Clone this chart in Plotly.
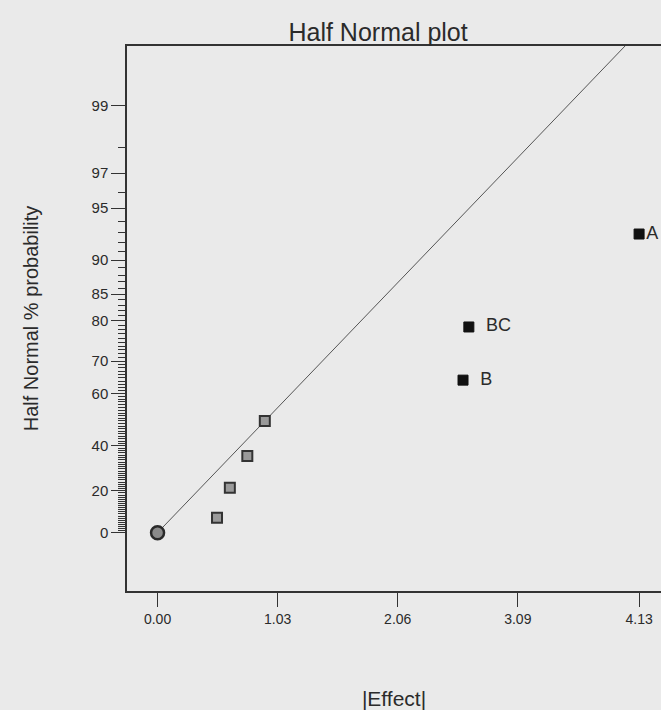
import statistics
import plotly.graph_objects as go

# ---- data ----
error_effect = [0.51, 0.62, 0.77, 0.92]
error_pct = [7.14, 21.43, 35.71, 50.00]

term_names = ["B", "BC", "A"]
term_effect = [2.62, 2.67, 4.13]
term_pct = [64.29, 78.57, 92.86]

origin_effect = [0.0]
origin_pct = [0.0]

line_effect = [0.0, 4.01]
line_pct = [0.0, 99.67]

x_tick_vals = [0.00, 1.03, 2.06, 3.09, 4.13]
y_major_pct = [0, 20, 40, 60, 70, 80, 85, 90, 95, 97, 99]
y_minor_pct = [p for p in range(1, 99) if p not in y_major_pct]

# ---- half-normal probability scale ----
_nd = statistics.NormalDist()


def hn(p):
    return _nd.inv_cdf(0.5 + p / 200.0)


def hn_list(ps):
    return [hn(p) for p in ps]


BG = "#eaeaea"
INK = "#2b2b2b"
FONT = "Liberation Sans, Arial, sans-serif"

fig = go.Figure()

fig.add_trace(go.Scatter(
    x=line_effect, y=hn_list(line_pct), mode="lines",
    line=dict(color="#555555", width=1), hoverinfo="skip", showlegend=False))

fig.add_trace(go.Scatter(
    x=origin_effect, y=hn_list(origin_pct), mode="markers",
    marker=dict(symbol="circle", size=13, color="#8a8a8a",
                line=dict(color="#2a2a2a", width=2.5)),
    showlegend=False))

fig.add_trace(go.Scatter(
    x=error_effect, y=hn_list(error_pct), mode="markers",
    marker=dict(symbol="square", size=10, color="#9a9a9a",
                line=dict(color="#333333", width=2)),
    showlegend=False))

# label text: A sits at the right edge, so it gets less padding to stay visible
term_text = ["  B", "  BC", "A"]
fig.add_trace(go.Scatter(
    x=term_effect, y=hn_list(term_pct), mode="markers+text",
    text=term_text, textposition="middle right",
    textfont=dict(family=FONT, size=18, color=INK),
    marker=dict(symbol="square", size=10, color="#111111",
                line=dict(color="#111111", width=1)),
    hovertext=term_names, showlegend=False))

fig.update_layout(
    width=661, height=710,
    margin=dict(l=127, r=0, t=46, b=119),
    paper_bgcolor=BG, plot_bgcolor=BG,
    font=dict(family=FONT, color=INK),
    title=dict(text="Half Normal plot", x=0.572, xanchor="center",
               y=0.955, yanchor="middle",
               font=dict(family=FONT, size=25, color=INK)),
)

fig.update_xaxes(
    range=[-0.262, 4.318],
    tickvals=x_tick_vals, ticktext=[f"{v:.2f}" for v in x_tick_vals],
    ticks="outside", ticklen=14, tickwidth=1.2, tickcolor="#333333",
    tickfont=dict(family=FONT, size=14, color=INK),
    showline=True, linecolor="#333333", linewidth=1.5, mirror=True,
    showgrid=False, zeroline=False,
    title=dict(text="|Effect|", font=dict(family=FONT, size=21, color=INK),
               standoff=66),
)

fig.update_yaxes(
    range=[-0.352, 2.938],
    tickvals=hn_list(y_major_pct), ticktext=[str(p) for p in y_major_pct],
    ticks="outside", ticklen=14, tickwidth=1.2, tickcolor="#333333",
    tickfont=dict(family=FONT, size=15, color=INK),
    minor=dict(tickvals=hn_list(y_minor_pct), ticks="outside", ticklen=7,
               tickwidth=1, tickcolor="#333333", showgrid=False),
    showline=True, linecolor="#333333", linewidth=1.5, mirror=False,
    showgrid=False, zeroline=False,
    title=dict(text="Half Normal % probability",
               font=dict(family=FONT, size=20, color=INK), standoff=48),
)

fig.write_html("out.html")
